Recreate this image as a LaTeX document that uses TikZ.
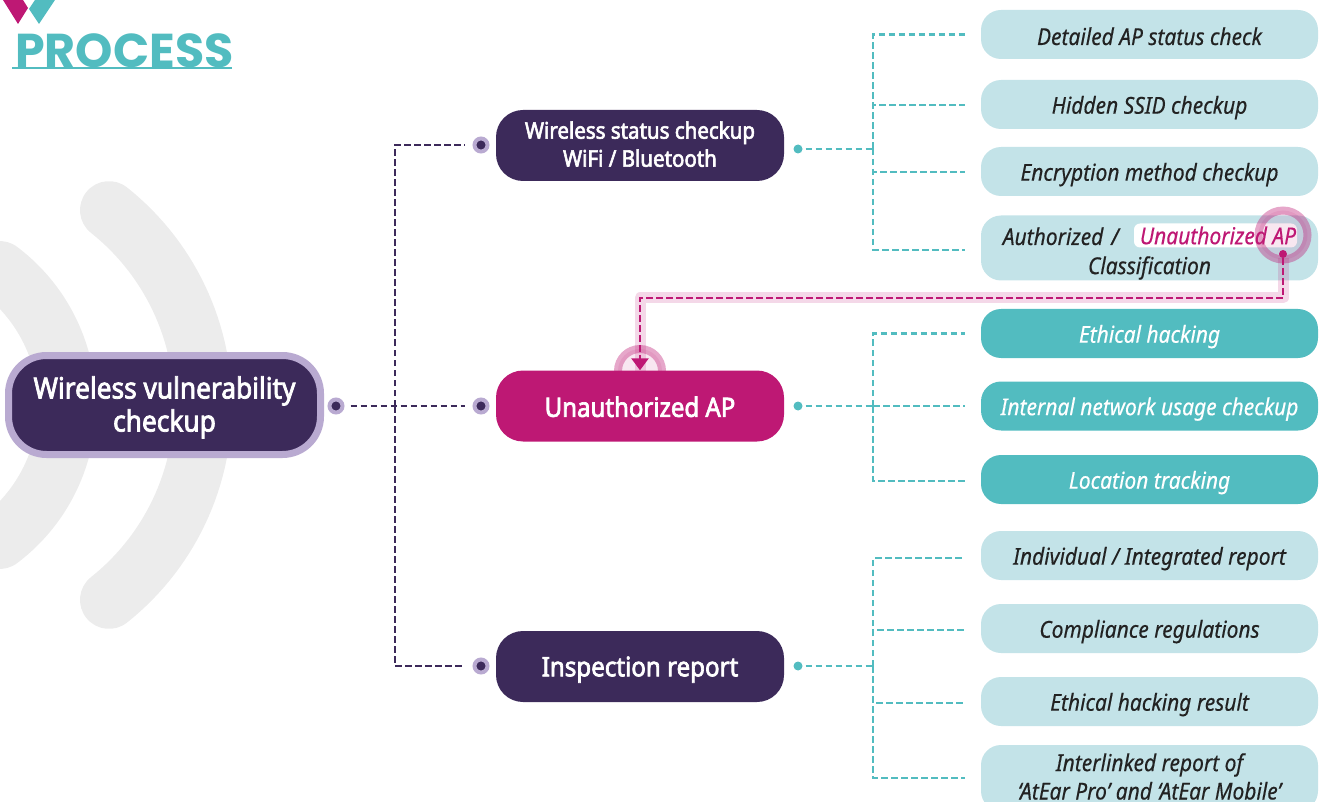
\documentclass[tikz,border=0pt]{standalone}
\usepackage{fontspec}
\setmainfont[FakeStretch=0.9,BoldFont={Noto Sans},BoldFeatures={FakeBold=2.6},ItalicFeatures={FakeBold=0.35}]{Noto Sans}
\newfontfamily\headfont{Poppins}
\usetikzlibrary{arrows.meta,calc}
\definecolor{plum}{HTML}{3C2A5A}
\definecolor{lilac}{HTML}{B9AAD1}
\definecolor{magen}{HTML}{BE1874}
\definecolor{teal1}{HTML}{52BCC0}
\definecolor{pale}{HTML}{C3E3E8}
\definecolor{wave}{HTML}{ECECEC}
\definecolor{ink}{HTML}{222222}
\newcommand{\itf}{\fontsize{23.3}{28}\selectfont\itshape}
\newcommand{\leafstrut}{\rule[-3pt]{0pt}{27pt}}
\tikzset{
  x=1pt,y=-1pt,
  mainbox/.style={draw=lilac,line width=7pt,fill=plum,rounded corners=38pt,minimum width=312pt,minimum height=99pt,align=center,text=white,font=\fontsize{29.2}{33}\selectfont\bfseries,inner sep=0pt},
  midbox/.style={rounded corners=27pt,minimum width=288pt,minimum height=71pt,align=center,text=white,inner sep=0pt},
  leafbox/.style={rounded corners=20pt,minimum width=337pt,minimum height=49pt,align=center,inner sep=0pt,fill=pale,text=ink,font=\itf,execute at begin node=\leafstrut},
  tealleaf/.style={leafbox,fill=teal1,text=white},
  ringdot/.style={circle,fill=plum,draw=lilac,line width=4pt,minimum size=13pt,inner sep=0pt},
  tealdot/.style={circle,fill=teal1,minimum size=9pt,inner sep=0pt},
  plumdash/.style={draw=plum,line width=2.4pt,dash pattern=on 6.5pt off 3.5pt},
  tealdash/.style={draw=teal1,line width=2.4pt,dash pattern=on 6.5pt off 3.5pt},
  magdash/.style={draw=magen,line width=2.6pt,dash pattern=on 6.5pt off 3.5pt},
  halo/.style={draw=magen,draw opacity=.17,line width=11pt,line join=round},
  wavearc/.style={draw=wave,line width=58pt,line cap=round},
  ring/.style={circle,draw=magen,draw opacity=.38,fill=magen,fill opacity=.1,text opacity=1,line width=8pt,inner sep=0pt},
}
\begin{document}
\begin{tikzpicture}
\useasboundingbox (0,0) rectangle (1320,802);
\clip (0,0) rectangle (1320,802);
% waves
\draw[wavearc] plot[domain=-51.5:51.5,samples=60] ({-46+249*cos(\x)},{405+249*sin(\x)});
\draw[wavearc] plot[domain=-53:53,samples=60] ({-102+169*cos(\x)},{405+169*sin(\x)});
% logo
\fill[magen] (3,0) -- (18,24) -- (28,8) -- (23,0) -- cycle;
\fill[teal1] (29,9) -- (39,24) -- (55,0) -- (35,0) -- cycle;
\node[anchor=base west,inner sep=0pt,text=teal1,font=\headfont\fontsize{47.5}{50}\selectfont\bfseries] (title) at (15,68) {PROCESS};
\draw[teal1,line width=2pt] (12,68) -- (232,68);
% nodes
\node[mainbox] (root) at (164.5,405) {\rule{0pt}{27pt}Wireless vulnerability\\checkup};
\node[ring,minimum size=44pt] (ringB) at (640,371) {};
\node[midbox,fill=plum,font=\fontsize{22.8}{28}\selectfont\bfseries] (wifi) at (640,145.5) {Wireless status checkup\\WiFi / Bluetooth\rule[-3pt]{0pt}{3pt}};
\node[midbox,fill=magen,font=\fontsize{26.7}{31}\selectfont\bfseries] (una) at (640,406) {\rule{0pt}{22pt}Unauthorized AP};
\node[midbox,fill=plum,font=\fontsize{26.8}{31}\selectfont\bfseries] (rep) at (640,666.5) {\rule{0pt}{26pt}Inspection report};
% dots
\node[ringdot] (d0) at (336,406) {};
\node[ringdot] (d1) at (481,145) {};
\node[ringdot] (d2) at (481,406) {};
\node[ringdot] (d3) at (481,666) {};
\node[tealdot] (t1) at (798,149) {};
\node[tealdot] (t2) at (798,406) {};
\node[tealdot] (t3) at (798,666) {};
% leaves
\node[leafbox] (a1) at (1149.5,34.5) {Detailed AP status check};
\node[leafbox] (a2) at (1149.5,104.5) {Hidden SSID checkup};
\node[leafbox] (a3) at (1149.5,171.5) {Encryption method checkup};
\node[leafbox,minimum height=65pt,execute at begin node={}] (a4) at (1149.5,248) {};
\node[tealleaf] (b1) at (1149.5,333.5) {Ethical hacking};
\node[tealleaf] (b2) at (1149.5,406) {Internal network usage checkup};
\node[tealleaf] (b3) at (1149.5,479.5) {Location tracking};
\node[leafbox] (c1) at (1149.5,555.5) {Individual / Integrated report};
\node[leafbox] (c2) at (1149.5,628.5) {Compliance regulations};
\node[leafbox] (c3) at (1149.5,701.5) {Ethical hacking result};
\node[leafbox,minimum height=66pt,execute at begin node={}] (c4) at (1149.5,778) {};
\node[inner sep=0pt,text=ink,font=\itf] (c4a) at (1149.5,765) {Interlinked report of};
\node[inner sep=0pt,text=ink,font=\itf,anchor=base] (c4b) at (1149.5,799.5) {\raisebox{0pt}[\height][0pt]{`AtEar Pro' and `AtEar Mobile'}};
\node[anchor=base east,inner sep=0pt,text=ink,font=\itf] (auth) at (1119,245) {Authorized\hspace{8pt}/};
\node[rounded corners=6pt,fill=white,text=magen,minimum width=163pt,minimum height=24pt,inner sep=0pt,font=\itf] (flag) at (1215.5,235.5) {\hspace{5pt}Unauthorized AP};
\node[inner sep=0pt,text=ink,font=\itf] (cls) at (1149.5,268) {Classification};
% plum connectors
\coordinate (tr) at (395,406);
\draw[plumdash,shorten <=6pt,shorten >=8pt] (d0) -- (d2);
\draw[plumdash,shorten >=8pt] (tr) |- (d1);
\draw[plumdash,shorten >=8pt] (tr) |- (d3);
% teal connectors
\coordinate (u1) at (873,149);
\coordinate (u2) at (873,406);
\coordinate (u3) at (873,666);
\draw[tealdash,shorten <=3pt] (t1) -- (u1);
\draw[tealdash,shorten <=3pt] (t2) -- (u2);
\draw[tealdash,shorten <=3pt] (t3) -- (u3);
\draw[tealdash] (u1) |- ([xshift=-16pt]a1.west);
\draw[tealdash] (u1) |- ([xshift=-16pt,yshift=-.5pt]a2.west);
\draw[tealdash] (u1) |- ([xshift=-16pt,yshift=-.5pt]a3.west);
\draw[tealdash] (u1) |- ([xshift=-16pt,yshift=-2pt]a4.west);
\draw[tealdash] (u2) |- ([xshift=-16pt]b1.west);
\draw[tealdash] (u2) -- ([xshift=-16pt]b2.west);
\draw[tealdash] (u2) |- ([xshift=-16pt,yshift=-1.5pt]b3.west);
\draw[tealdash] (u3) |- ([xshift=-16pt,yshift=-2.5pt]c1.west);
\draw[tealdash] (u3) |- ([xshift=-16pt,yshift=-1.5pt]c2.west);
\draw[tealdash] (u3) |- ([xshift=-16pt,yshift=-1.5pt]c3.west);
\draw[tealdash] (u3) |- ([xshift=-16pt]c4.west);
% highlight link
\node[ring,minimum size=49pt] (ringA) at (1283,235) {};
\node[circle,fill=magen,minimum size=8pt,inner sep=0pt] (src) at (1283,254) {};
\coordinate (hy) at (0,298);
\draw[halo] (src) |- (una.north |- hy) -- ([yshift=-25pt]una.north);
\draw[magdash,-{Triangle[length=12pt,width=17pt]}] (src) |- (una.north |- hy) -- (una.north);
\end{tikzpicture}
\end{document}
